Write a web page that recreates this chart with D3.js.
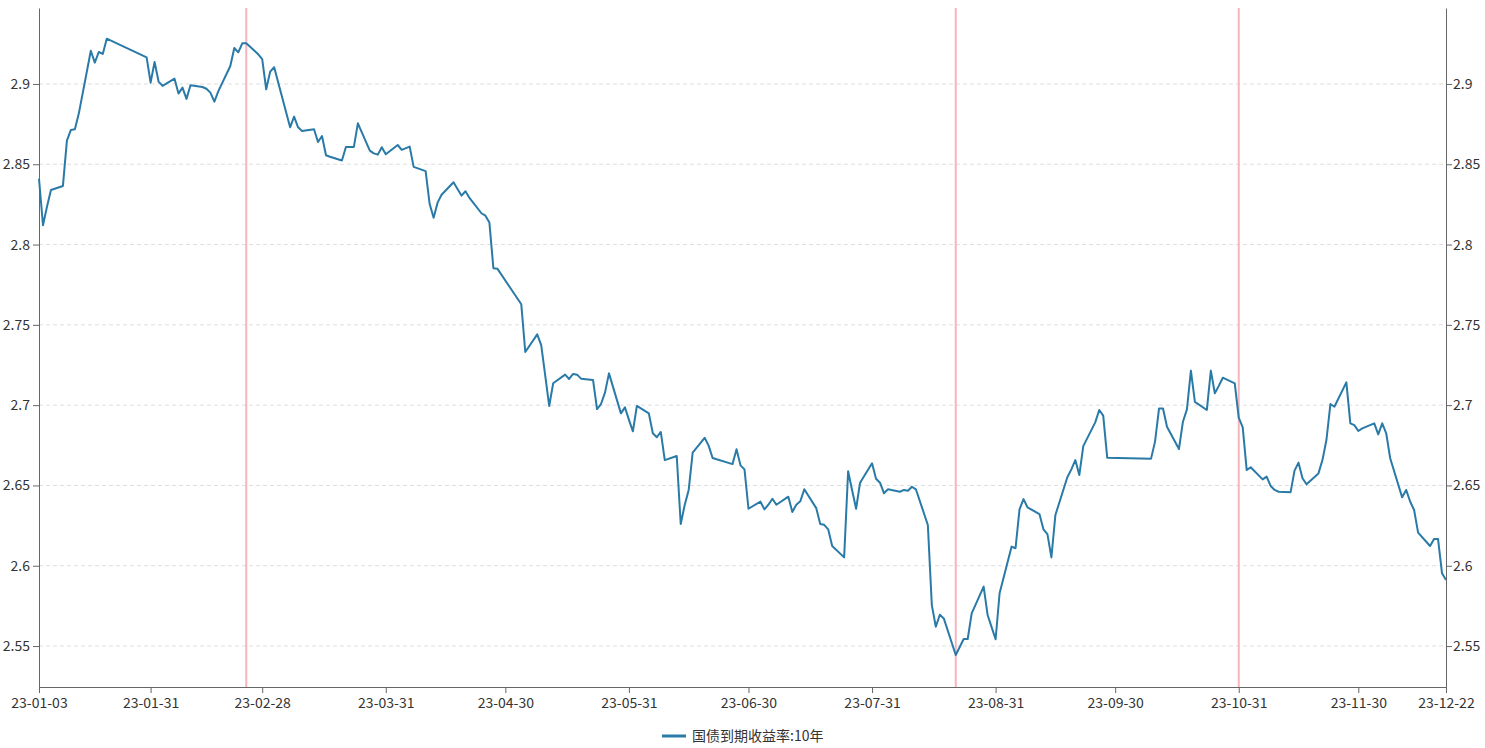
<!DOCTYPE html>
<html>
<head>
<meta charset="utf-8">
<script src="https://cdn.jsdelivr.net/npm/d3@7"></script>
<style>
  body { margin: 0; background: #fff; }
  svg text { font-family: "Noto Sans CJK SC", "Noto Sans", sans-serif; }
</style>
</head>
<body>
<svg></svg>
<script>
/* data */
let seriesName = "国债到期收益率:10年";
let dates = [
  "2023-01-03","2023-01-04","2023-01-05","2023-01-06","2023-01-09","2023-01-10","2023-01-11","2023-01-12","2023-01-13",
  "2023-01-16","2023-01-17","2023-01-18","2023-01-19","2023-01-20","2023-01-30","2023-01-31","2023-02-01","2023-02-02",
  "2023-02-03","2023-02-06","2023-02-07","2023-02-08","2023-02-09","2023-02-10","2023-02-13","2023-02-14","2023-02-15",
  "2023-02-16","2023-02-17","2023-02-20","2023-02-21","2023-02-22","2023-02-23","2023-02-24","2023-02-27","2023-02-28",
  "2023-03-01","2023-03-02","2023-03-03","2023-03-06","2023-03-07","2023-03-08","2023-03-09","2023-03-10","2023-03-13",
  "2023-03-14","2023-03-15","2023-03-16","2023-03-17","2023-03-20","2023-03-21","2023-03-22","2023-03-23","2023-03-24",
  "2023-03-27","2023-03-28","2023-03-29","2023-03-30","2023-03-31","2023-04-03","2023-04-04","2023-04-06","2023-04-07",
  "2023-04-10","2023-04-11","2023-04-12","2023-04-13","2023-04-14","2023-04-17","2023-04-18","2023-04-19","2023-04-20",
  "2023-04-21","2023-04-24","2023-04-25","2023-04-26","2023-04-27","2023-04-28","2023-05-04","2023-05-05","2023-05-08",
  "2023-05-09","2023-05-10","2023-05-11","2023-05-12","2023-05-15","2023-05-16","2023-05-17","2023-05-18","2023-05-19",
  "2023-05-22","2023-05-23","2023-05-24","2023-05-25","2023-05-26","2023-05-29","2023-05-30","2023-05-31","2023-06-01",
  "2023-06-02","2023-06-05","2023-06-06","2023-06-07","2023-06-08","2023-06-09","2023-06-12","2023-06-13","2023-06-14",
  "2023-06-15","2023-06-16","2023-06-19","2023-06-20","2023-06-21","2023-06-26","2023-06-27","2023-06-28","2023-06-29",
  "2023-06-30","2023-07-03","2023-07-04","2023-07-05","2023-07-06","2023-07-07","2023-07-10","2023-07-11","2023-07-12",
  "2023-07-13","2023-07-14","2023-07-17","2023-07-18","2023-07-19","2023-07-20","2023-07-21","2023-07-24","2023-07-25",
  "2023-07-26","2023-07-27","2023-07-28","2023-07-31","2023-08-01","2023-08-02","2023-08-03","2023-08-04","2023-08-07",
  "2023-08-08","2023-08-09","2023-08-10","2023-08-11","2023-08-14","2023-08-15","2023-08-16","2023-08-17","2023-08-18",
  "2023-08-21","2023-08-22","2023-08-23","2023-08-24","2023-08-25","2023-08-28","2023-08-29","2023-08-30","2023-08-31",
  "2023-09-01","2023-09-04","2023-09-05","2023-09-06","2023-09-07","2023-09-08","2023-09-11","2023-09-12","2023-09-13",
  "2023-09-14","2023-09-15","2023-09-18","2023-09-19","2023-09-20","2023-09-21","2023-09-22","2023-09-25","2023-09-26",
  "2023-09-27","2023-09-28","2023-10-09","2023-10-10","2023-10-11","2023-10-12","2023-10-13","2023-10-16","2023-10-17",
  "2023-10-18","2023-10-19","2023-10-20","2023-10-23","2023-10-24","2023-10-25","2023-10-26","2023-10-27","2023-10-30",
  "2023-10-31","2023-11-01","2023-11-02","2023-11-03","2023-11-06","2023-11-07","2023-11-08","2023-11-09","2023-11-10",
  "2023-11-13","2023-11-14","2023-11-15","2023-11-16","2023-11-17","2023-11-20","2023-11-21","2023-11-22","2023-11-23",
  "2023-11-24","2023-11-27","2023-11-28","2023-11-29","2023-11-30","2023-12-01","2023-12-04","2023-12-05","2023-12-06",
  "2023-12-07","2023-12-08","2023-12-11","2023-12-12","2023-12-13","2023-12-14","2023-12-15","2023-12-18","2023-12-19",
  "2023-12-20","2023-12-21","2023-12-22"
];
let yields = [
  2.841,2.812,2.8235,2.834,2.8365,2.8647,2.8714,2.8718,2.8817,
  2.9207,2.9133,2.9199,2.9187,2.9282,2.9166,2.9008,2.9137,2.9015,
  2.8988,2.9033,2.894,2.8977,2.8907,2.8992,2.8981,2.897,2.8946,
  2.889,2.8955,2.9112,2.9224,2.9197,2.9253,2.9253,2.9185,2.9154,
  2.8967,2.9077,2.9104,2.8824,2.873,2.8797,2.873,2.8707,2.8718,
  2.8639,2.8676,2.8556,2.8547,2.8523,2.8608,2.8608,2.8608,2.8755,
  2.8585,2.8568,2.856,2.8606,2.8562,2.862,2.859,2.861,2.8484,
  2.8457,2.8254,2.8167,2.8261,2.831,2.8388,2.8346,2.8305,2.8332,
  2.829,2.8195,2.818,2.8137,2.7853,2.785,2.7628,2.7331,2.7441,
  2.7374,2.7185,2.6995,2.7136,2.719,2.7163,2.7194,2.719,2.7165,
  2.7157,2.6976,2.7007,2.7078,2.7198,2.6949,2.6986,2.691,2.6837,
  2.6995,2.6949,2.6825,2.68,2.6833,2.6658,2.6683,2.626,2.6378,
  2.6472,2.6704,2.6797,2.6748,2.6671,2.6633,2.6725,2.6625,2.66,
  2.6355,2.6399,2.6351,2.638,2.6417,2.638,2.643,2.6335,2.638,
  2.6401,2.6476,2.6359,2.626,2.6255,2.6227,2.6123,2.6052,2.6588,
  2.647,2.6355,2.6517,2.6638,2.6542,2.6517,2.6451,2.6476,2.6461,
  2.6472,2.6467,2.6492,2.6476,2.6254,2.5755,2.562,2.5695,2.5672,
  2.5444,2.5494,2.5544,2.5544,2.5704,2.587,2.5693,2.5618,2.5542,
  2.5829,2.6119,2.6109,2.6351,2.6415,2.6364,2.6322,2.6227,2.6197,
  2.6052,2.6316,2.6551,2.66,2.6658,2.6565,2.6745,2.6893,2.697,
  2.6935,2.6673,2.6667,2.6773,2.6979,2.6979,2.6866,2.6727,2.6897,
  2.6974,2.7215,2.702,2.697,2.7215,2.7074,2.712,2.7171,2.7136,
  2.6922,2.6862,2.6596,2.6613,2.6538,2.6555,2.6497,2.6472,2.6461,
  2.6457,2.6592,2.6642,2.6545,2.6507,2.6575,2.6658,2.6783,2.7007,
  2.699,2.7142,2.6887,2.6876,2.6839,2.6855,2.6887,2.6818,2.6887,
  2.6825,2.6669,2.6426,2.6472,2.64,2.6347,2.6206,2.6123,2.6167,
  2.6167,2.5953,2.5911
];
let xTickDates = ["2023-01-03","2023-01-31","2023-02-28","2023-03-31","2023-04-30","2023-05-31",
  "2023-06-30","2023-07-31","2023-08-31","2023-09-30","2023-10-31","2023-11-30","2023-12-22"];
let yTicks = [2.55, 2.6, 2.65, 2.7, 2.75, 2.8, 2.85, 2.9];
let markerDates = ["2023-02-24","2023-08-21","2023-10-31"];

let width = 1485;
let height = 748;
let margin = {top: 8, right: 39, bottom: 61, left: 39};
let lineColor = "#2a7aa8";

const parse = d3.timeParse("%Y-%m-%d");
const svg = d3.select("svg").attr("width", width).attr("height", height);

let values = dates.map((d, i) => ({date: parse(d), value: yields[i]}));

let xScale = d3.scaleTime()
  .domain([parse("2023-01-03"), parse("2023-12-22")])
  .range([margin.left, width - margin.right]);
let yScale = d3.scaleLinear()
  .domain([2.5245, 2.9473])
  .range([height - margin.bottom, margin.top]);

// grid
svg.append("g").selectAll("line").data(yTicks).enter().append("line")
  .attr("x1", margin.left).attr("x2", width - margin.right)
  .attr("y1", d => yScale(d)).attr("y2", d => yScale(d))
  .attr("stroke", "#dedede").attr("stroke-dasharray", "4,3");

// red markers
svg.append("g").selectAll("line").data(markerDates).enter().append("line")
  .attr("x1", d => xScale(parse(d))).attr("x2", d => xScale(parse(d)))
  .attr("y1", margin.top).attr("y2", height - margin.bottom)
  .attr("stroke", "#f6b4bc").attr("stroke-width", 2);

// line
let line = d3.line().x(d => xScale(d.date)).y(d => yScale(d.value));
svg.append("path").datum(values)
  .attr("d", line).attr("fill", "none")
  .attr("stroke", lineColor).attr("stroke-width", 2)
  .attr("stroke-linejoin", "round");

// axes
const styleAxis = g => {
  g.select(".domain").attr("stroke", "#666");
  g.selectAll(".tick line").attr("stroke", "#666");
  g.selectAll(".tick text").attr("fill", "#333").style("font-size", "14px");
};
let xAxis = d3.axisBottom(xScale).tickValues(xTickDates.map(parse))
  .tickFormat(d3.timeFormat("%y-%m-%d")).tickSize(6).tickSizeOuter(0).tickPadding(5);
svg.append("g").attr("transform", "translate(0," + (height - margin.bottom) + ")")
  .call(xAxis).call(styleAxis);

let yAxisL = d3.axisLeft(yScale).tickValues(yTicks).tickFormat(d => d).tickSize(6).tickSizeOuter(0).tickPadding(3);
svg.append("g").attr("transform", "translate(" + margin.left + ",0)").call(yAxisL).call(styleAxis);
let yAxisR = d3.axisRight(yScale).tickValues(yTicks).tickFormat(d => d).tickSize(6).tickSizeOuter(0).tickPadding(1);
svg.append("g").attr("transform", "translate(" + (width - margin.right) + ",0)").call(yAxisR).call(styleAxis);

// legend
let legend = svg.append("g").attr("transform", "translate(662,736)");
legend.append("line").attr("x1", 0).attr("x2", 24).attr("y1", 0).attr("y2", 0)
  .attr("stroke", lineColor).attr("stroke-width", 3);
legend.append("text").attr("x", 30).attr("y", 5).attr("fill", "#333")
  .style("font-size", "14px").text(seriesName);
</script>
</body>
</html>
